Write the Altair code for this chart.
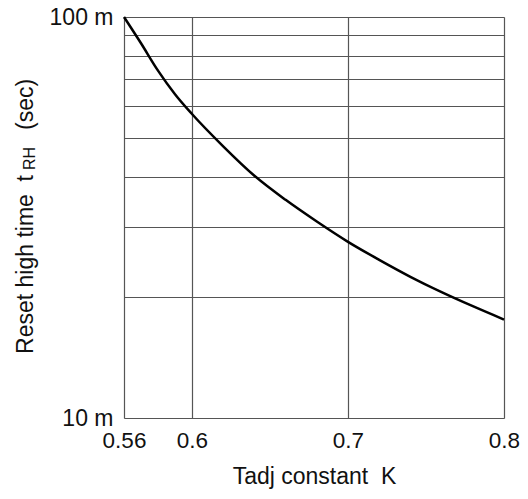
import altair as alt
import pandas as pd

# ---- data ----
k_values = [0.56, 0.57, 0.58, 0.59, 0.60, 0.62, 0.64, 0.66,
            0.68, 0.70, 0.72, 0.74, 0.76, 0.78, 0.80]
t_ms = [100, 86.0, 73.5, 64.2, 57.3, 47.6, 40.2, 35.0,
        30.9, 27.5, 24.8, 22.5, 20.6, 19.0, 17.6]

x_ticks = [0.56, 0.6, 0.7, 0.8]
y_grid = [10, 20, 30, 40, 50, 60, 70, 80, 90, 100]
y_tick_labels = {10: "10 m", 100: "100 m"}

x_title = "Tadj constant\u00a0\u00a0K"
y_title_main = "Reset high time\u00a0\u00a0t"
y_title_sub = "RH"
y_title_unit = "(sec)"

df = pd.DataFrame({"K": k_values, "t": t_ms})

FONT = "Liberation Sans"
FS = 23
W, H = 380, 401

label_expr = " : ".join(
    [f"datum.value == {k} ? '{v}'" for k, v in y_tick_labels.items()]
) + " : ''"

line = alt.Chart(df).mark_line(
    color="black", strokeWidth=2.5, interpolate="monotone"
).encode(
    x=alt.X(
        "K:Q",
        scale=alt.Scale(domain=[0.56, 0.6, 0.8], range=[0, 68, W], nice=False, zero=False),
        axis=alt.Axis(
            values=x_ticks, format=".2~f", title=x_title,
            grid=True, gridColor="#555555", gridWidth=1.2,
            domain=False, ticks=False, labelFlush=False, labelOverlap=False,
            labelFont=FONT, labelFontSize=22.5, labelColor="#111111", labelPadding=11,
            titleFont=FONT, titleFontSize=FS, titleFontWeight="normal",
            titleColor="#111111", titlePadding=14,
        ),
    ),
    y=alt.Y(
        "t:Q",
        scale=alt.Scale(type="log", domain=[10, 100], nice=False),
        axis=alt.Axis(
            values=y_grid, labelExpr=label_expr, title=None,
            grid=True, gridColor="#555555", gridWidth=1.2,
            domain=False, ticks=False, labelOverlap=False,
            labelFont=FONT, labelFontSize=FS, labelColor="#111111", labelPadding=11,
            labelBaseline="middle",
        ),
    ),
)

one = alt.Data(values=[{"a": 0}])

t_main = alt.Chart(one).mark_text(
    text=y_title_main, angle=270, align="right", baseline="alphabetic",
    font=FONT, fontSize=FS, color="#111111",
).encode(x=alt.value(-91), y=alt.value(158))

t_sub = alt.Chart(one).mark_text(
    text=y_title_sub, angle=270, align="left", baseline="alphabetic",
    font=FONT, fontSize=16, color="#111111",
).encode(x=alt.value(-89), y=alt.value(153))

t_unit = alt.Chart(one).mark_text(
    text=y_title_unit, angle=270, align="left", baseline="alphabetic",
    font=FONT, fontSize=FS, color="#111111",
).encode(x=alt.value(-91), y=alt.value(113))

chart = alt.layer(line, t_main, t_sub, t_unit).properties(
    width=W, height=H,
    autosize=alt.AutoSizeParams(type="none"),
    padding={"left": 116, "top": 9, "right": 16, "bottom": 71},
).configure_view(
    stroke="black", strokeWidth=2
).configure(background="white")

chart.save("out.html", embed_options={"renderer": "svg", "actions": False})
